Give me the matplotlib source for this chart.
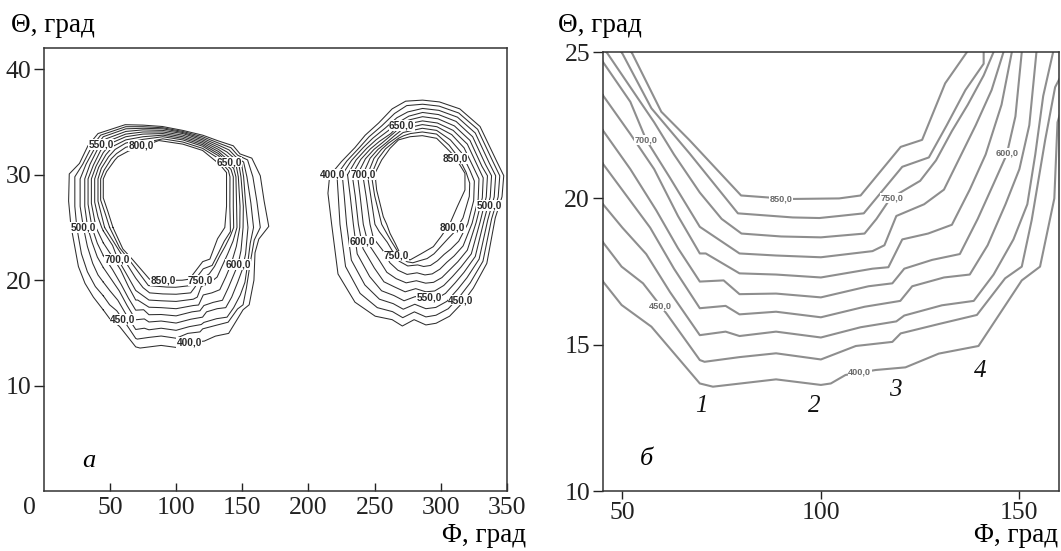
import matplotlib
matplotlib.use("Agg")
import matplotlib.pyplot as plt
import numpy as np

# ---------------- data ----------------
levels = [400, 450, 500, 550, 600, 650, 700, 750, 800, 850]

# Left region of panel a (also shown zoomed in panel б): closed isolines (Phi, Theta)
LB400 = [(45.0,17.18),(49.8,16.36),(57.3,15.62),(69.5,13.68),(72.8,13.57),(88.7,13.82),(100.0,13.63),(102.5,13.68),(106.2,13.97),(113.8,14.14),(121.3,14.23),(129.7,14.70),(139.7,14.96),(150.6,17.20),(155.2,17.67),(158.8,20.0),(159.6,22.6),(162.5,23.9),(170.0,25.1),(166.5,27.5),(163.6,29.9),(157.2,31.57),(148.3,31.97),(143.2,32.74),(132,33.2),(120.2,33.74),(105,34.2),(89.6,34.57),(75,34.7),(61.5,34.74),(41.0,33.9),(33.4,32.74),(27.0,31.07),(19.3,30.07),(18.8,27.5),(20.5,25.2),(26.2,21.3),(31.2,19.7),(37.5,18.4),(45.0,17.18)]
LB450 = [(45,18.52),(49.8,17.67),(55.2,17.1),(61.1,16.07),(69.5,14.48),(70.7,14.42),(79.5,14.58),(88.7,14.71),(100,14.5),(108.8,14.96),(118,15.1),(120.1,15.39),(129.7,15.71),(139.3,16.02),(146.4,17.27),(150.6,17.67),(153.1,19.26),(156.5,22.0),(159,23.8),(163.6,25.0),(161,27.5),(158,29.8),(154,31.4),(146.5,31.85),(141.5,32.55),(132,33.0),(120,33.6),(105,34.1),(90,34.45),(75,34.55),(62,34.55),(43,33.75),(36,32.6),(29.5,31.0),(23.5,29.8),(23.5,27.0),(25.0,25.0),(28.5,22.5),(33,20.8),(39,19.4),(45,18.52)]
LB500 = [(45,19.82),(50,19.0),(56,18.1),(62,16.8),(69.5,15.33),(76,15.45),(79.5,15.3),(88.7,15.45),(100,15.25),(110,15.6),(119,15.8),(121,16.0),(130.5,16.35),(138.5,16.5),(143.5,17.4),(148.5,18.6),(152,19.8),(154,21.5),(156,23.5),(158.5,25.0),(156.5,27.3),(153.5,29.8),(151,31.2),(145,31.7),(140,32.35),(132,32.8),(120,33.45),(105,34.0),(90,34.35),(75,34.4),(62,34.35),(45,33.6),(38.5,32.5),(32,31.0),(27.5,29.6),(27.5,27.0),(30,25.0),(33,23.2),(37,21.6),(41,20.5),(45,19.82)]
LB550 = [(45,21.2),(51,20.1),(57,19.0),(63,17.6),(69.5,16.25),(76,16.33),(79.5,16.04),(88.7,16.13),(100,15.94),(111,16.3),(120,16.5),(123,17.0),(131,17.3),(137.5,17.4),(142,18.4),(146.5,19.8),(150,21.0),(152.5,22.5),(154.3,25.0),(152.5,27.3),(151,29.8),(149.5,31.0),(143.5,31.6),(138.5,32.15),(132,32.6),(120,33.3),(105,33.9),(90,34.2),(75,34.25),(62,34.1),(47,33.4),(41,32.5),(35,31.0),(31,29.6),(31,27.0),(33.2,25.0),(36.5,23.6),(40.5,22.2),(45,21.2)]
LB600 = [(45,22.34),(52,21.0),(58.5,19.6),(64,18.3),(69.5,17.16),(75.5,17.2),(79.5,16.73),(88.7,16.75),(100,16.62),(112,17.0),(118,17.1),(121,17.6),(128,17.9),(135,18.1),(139.5,19.3),(143.5,20.5),(146.8,21.5),(149,22.8),(150.6,25.0),(150.8,27.0),(149,29.8),(147.5,30.9),(142,31.45),(137,31.95),(132,32.4),(120,33.15),(105,33.75),(90,34.05),(75,34.05),(62,33.85),(49,33.2),(43,32.3),(37.5,30.9),(33.5,29.6),(33.5,27.2),(36.5,25.0),(40.5,23.5),(45,22.34)]
LB650 = [(45,23.54),(52,22.2),(58,21.0),(64,19.4),(69.5,18.12),(71,18.12),(79.5,17.44),(88.7,17.4),(100,17.3),(113,17.6),(117,17.65),(120.5,18.6),(127,18.8),(133,19.1),(137.5,20.3),(141.5,21.5),(145.5,23.2),(148.1,25.0),(148.3,27.0),(147,29.8),(145.5,30.8),(140.5,31.3),(135.5,31.8),(132,32.2),(120,33.0),(105,33.6),(90,33.9),(75,33.85),(62,33.6),(51,33.0),(45,32.1),(39.5,30.8),(36,29.6),(36,27.3),(39.5,25.0),(42.5,24.2),(45,23.54)]
LB700 = [(45,24.68),(52,23.3),(56,22.0),(62,20.7),(69.5,19.03),(79.5,18.12),(88.7,18.05),(100,17.99),(113,18.2),(116,18.4),(119,19.4),(126,19.8),(131,20.3),(135,21.4),(139,22.5),(143,23.7),(146,25.0),(145.7,27.0),(145.2,29.8),(143.5,30.6),(139,31.15),(132,32.0),(120,32.85),(105,33.45),(90,33.75),(75,33.6),(62,33.3),(52.5,32.7),(47,31.9),(41.5,30.7),(38.5,29.6),(38.5,27.4),(41,26.0),(43.8,25.0),(45,24.68)]
LB750 = [(46,25.0),(52,23.8),(58,22.6),(63,21.5),(69.5,20.2),(75,19.3),(80,18.8),(90,18.7),(100,18.67),(111,18.8),(114,19.3),(117.5,20.0),(125,20.6),(129,21.3),(133,22.3),(137,23.2),(141,24.2),(143.5,25.0),(143.2,27.0),(143.2,29.8),(141.5,30.5),(137.5,31.0),(132,31.8),(120,32.7),(105,33.3),(90,33.6),(75,33.35),(62,33.0),(54,32.4),(49,31.7),(43.5,30.6),(41,29.6),(41,27.5),(44,26.0),(46,25.0)]
LB800 = [(49.8,25.0),(57.3,23.08),(66.9,21.54),(79.1,19.49),(92.9,19.35),(99.6,19.33),(104.6,19.4),(110.8,19.49),(120.5,21.08),(127.2,21.4),(131.7,22.5),(136.4,23.7),(141.0,24.6),(141.0,25.0),(140.6,27.0),(140.7,29.8),(139.5,30.4),(136,30.9),(132,31.55),(120,32.5),(105,33.1),(90,33.4),(75,33.0),(62,32.6),(55,32.0),(51,31.5),(45.5,30.4),(43,29.6),(43,27.6),(46.5,26.3),(49.8,25.0)]
LB850 = [(52.3,25.0),(59.8,22.96),(66.9,21.99),(79.9,20.1),(92.0,19.98),(104.6,20.0),(110.0,20.1),(120.1,21.76),(125.5,22.0),(131.3,23.93),(136.8,25.0),(138.1,27.0),(138.1,29.8),(138.1,30.2),(134.5,30.75),(130.4,31.24),(120,32.3),(105,32.9),(87,33.24),(75,32.7),(64,32.24),(56,31.7),(53.8,31.4),(47.5,30.3),(45,29.6),(45,27.8),(48.5,26.5),(52.3,25.0)]

# Right region of panel a
RB400 = [(216.0,29.9),(224.9,31.24),(235.1,32.57),(242.8,33.74),(253.0,34.9),(263.2,36.24),(273.4,36.97),(286.2,37.07),(298.9,36.9),(314.3,36.24),(329.6,34.57),(342.3,31.24),(347.5,29.91),(346.2,27.91),(341.1,25.91),(334.7,21.59),(324.5,19.25),(316.8,17.92),(306.6,16.59),(296.4,15.92),(288.7,15.76),(279.8,16.26),(270.9,15.66),(263.2,16.26),(250.4,16.59),(235.1,17.92),(222.3,20.59),(217.5,25.3),(214.7,28.24),(216.0,29.9)]
RB450 = [(221.5,30.0),(229,31.3),(238.3,32.55),(245.8,33.6),(255.5,34.65),(265,35.8),(274.2,36.55),(286.2,36.68),(298.7,36.5),(313.5,35.85),(327.8,34.3),(339.5,31.2),(344.5,29.9),(343.3,27.9),(338.3,25.8),(331.8,21.8),(322.2,19.75),(314.8,18.55),(305.6,17.3),(296.3,16.68),(288.7,16.52),(280.0,17.0),(271.2,16.45),(263.5,17.02),(252.0,17.4),(239.0,18.75),(228.0,21.3),(223.8,25.3),(222.5,28.0),(221.5,30.0)]
RB500 = [(225.5,30.0),(232.5,31.35),(241.2,32.55),(248.5,33.45),(257.8,34.4),(266.8,35.4),(275,35.95),(286.2,36.28),(298.5,36.1),(312.6,35.45),(326,33.95),(336.6,31.1),(341.4,29.9),(340.3,27.9),(335.4,25.7),(328.9,22.0),(319.8,20.25),(312.8,19.15),(304.6,18.0),(296.2,17.42),(288.7,17.3),(280.3,17.72),(271.6,17.25),(264,17.78),(253.6,18.2),(242.6,19.55),(232.4,21.9),(228.8,25.3),(227,28.0),(225.5,30.0)]
RB550 = [(229.5,30.0),(236,31.4),(244,32.5),(251,33.3),(260,34.15),(268.5,35.0),(275.8,35.55),(286.2,35.9),(298.2,35.7),(311.5,35.05),(324,33.6),(333.8,30.95),(338.3,29.9),(337.3,27.9),(332.5,25.6),(326,22.25),(317.5,20.75),(310.8,19.75),(303.5,18.75),(295.8,18.2),(288.7,18.1),(280.7,18.45),(272.2,18.05),(264.5,18.55),(255.2,19.0),(246.2,20.35),(236.8,22.5),(233.9,25.3),(231.5,28.0),(229.5,30.0)]
RB600 = [(233,30.0),(239.5,31.45),(246.8,32.45),(253.5,33.15),(262.2,33.9),(270,34.9),(276.2,35.2),(286.2,35.5),(297.8,35.3),(310.3,34.62),(322,33.25),(331,30.8),(335.2,29.9),(334.3,27.9),(329.6,25.5),(323,22.5),(315.2,21.25),(308.8,20.35),(302.2,19.5),(295.3,18.98),(288.7,18.9),(281,19.2),(273,18.9),(265.2,19.35),(257,19.85),(249.8,21.15),(241.2,23.0),(237.7,25.3),(235.3,28.0),(233,30.0)]
RB650 = [(237,30.0),(243,31.5),(249.5,32.4),(256,33.05),(264,33.9),(271.2,34.7),(276.4,34.85),(286.1,35.1),(297.4,34.9),(309.3,34.2),(320,32.9),(328.2,30.7),(332,29.7),(331.3,27.8),(326.6,25.45),(320,22.85),(312.8,21.75),(306.8,21.0),(300.8,20.25),(294.5,19.8),(288.5,19.72),(281.5,19.95),(273.8,19.75),(266.2,20.15),(259.2,20.75),(253.2,21.95),(245,23.5),(241.4,25.3),(239,28.0),(237,30.0)]
RB700 = [(241,30.0),(246.5,31.55),(252.5,32.4),(258.5,33.0),(265,33.7),(271.5,34.35),(277,34.5),(286,34.75),(297,34.55),(308.2,33.8),(317.5,32.55),(325.2,30.55),(328.8,29.6),(328.2,27.7),(323.6,25.4),(316.8,23.25),(310,22.3),(304.5,21.7),(299.3,21.05),(293.5,20.6),(288,20.5),(282,20.7),(274.5,20.55),(267.5,20.95),(261.5,21.65),(256.3,22.8),(249,24.0),(246.5,25.3),(243.5,28.0),(241,30.0)]
RB750 = [(244.5,30.0),(249.5,31.55),(255.2,32.4),(260.5,33.0),(266.2,33.5),(271.5,34.0),(276.8,34.15),(286,34.4),(296.8,34.2),(307.2,33.3),(315.5,32.1),(322,30.4),(325.3,29.4),(324.8,27.55),(320.3,25.35),(313.5,23.7),(307.5,22.95),(302.5,22.45),(297.5,21.85),(292.2,21.4),(287,21.3),(282.5,21.45),(275,21.35),(268.5,21.8),(264.2,22.6),(259.5,23.6),(253.5,24.6),(250.2,25.3),(247,28.0),(244.5,30.0)]
RB800 = [(247.5,30.0),(252.5,31.5),(258.2,32.45),(263.5,33.0),(268,33.45),(272,33.7),(277,33.9),(286,34.05),(296.8,33.85),(306.2,32.8),(313.5,31.6),(319,30.25),(321.8,29.2),(321.5,27.95),(316.7,25.9),(310.5,24.6),(305.5,23.95),(300,23.2),(294.8,22.5),(289.6,22.05),(284,21.85),(278.8,21.65),(274.5,21.75),(270.2,22.15),(266.5,22.9),(262.5,23.7),(257.5,24.8),(255.3,25.3),(250,28.0),(247.5,30.0)]
RB850 = [(250.2,30.13),(255.3,31.4),(261.6,32.5),(268,33.3),(276.7,33.6),(286,33.7),(296.8,33.45),(304.5,32.5),(309.4,31.87),(314,31.0),(318.2,30.13),(318.2,28.55),(312.5,27.0),(306.9,25.39),(300.5,24.2),(294.3,23.18),(285,22.5),(276.7,21.92),(272,22.2),(269.1,22.55),(265.5,23.5),(261.6,24.44),(259.1,25.3),(256.5,26.02),(251.5,28.55),(250.2,30.13)]

left_loops = [LB400, LB450, LB500, LB550, LB600, LB650, LB700, LB750, LB800, LB850]
right_loops = [RB400, RB450, RB500, RB550, RB600, RB650, RB700, RB750, RB800, RB850]

# isoline labels (text, Phi, Theta)
labels_a = [("550,0", 43.5, 32.9), ("800,0", 73.5, 32.8), ("650,0", 140.0, 31.2), ("500,0", 30.0, 25.0),
            ("700,0", 55.7, 21.95), ("850,0", 90.2, 20.0), ("750,0", 118.6, 20.0), ("600,0", 147.0, 21.5),
            ("450,0", 59.6, 16.25), ("400,0", 110.0, 14.1),
            ("400,0", 218.0, 30.0), ("700,0", 241.4, 30.0), ("650,0", 270.5, 34.7), ("850,0", 310.6, 31.55),
            ("500,0", 336.6, 27.1), ("800,0", 308.8, 25.0), ("600,0", 240.8, 23.65), ("750,0", 266.0, 22.3),
            ("550,0", 291.0, 18.37), ("450,0", 315.0, 18.12)]
labels_b = [("700,0", 56.0, 22.0), ("850,0", 90.0, 19.98), ("750,0", 118.0, 20.0), ("600,0", 146.8, 21.54),
            ("450,0", 59.6, 16.33), ("400,0", 109.8, 14.08)]
curve_numbers = [("1", 69.9, 12.9), ("2", 98.3, 12.9), ("3", 118.8, 13.45), ("4", 140.1, 14.1)]

xticks_a = [50, 100, 150, 200, 250, 300, 350]
yticks_a = [10, 20, 30, 40]
xticks_b = [50, 100, 150]
yticks_b = [10, 15, 20, 25]

# ---------------- drawing ----------------
SERIF = "Liberation Serif"
SANS = "Liberation Sans"
TICK_FS = 18.5
LABEL_FS = 19.5
fig = plt.figure(figsize=(10.61, 5.51), dpi=100)
axA = fig.add_axes([0.0412, 0.1085, 0.4367, 0.8042])
axB = fig.add_axes([0.5679, 0.1085, 0.4303, 0.7971])

for loop in left_loops + right_loops:
    arr = np.array(loop)
    axA.plot(arr[:, 0], arr[:, 1], color="#2e2e2e", lw=0.75, zorder=2)
for loop in left_loops:
    arr = np.array(loop)
    axB.plot(arr[:, 0], arr[:, 1], color="#8e8e8e", lw=1.5, zorder=2)

for txt, x, y in labels_a:
    axA.text(x, y, txt, fontsize=7.3, fontweight="bold", family=SANS, color="#2a2a2a",
             ha="center", va="center", zorder=4,
             bbox=dict(facecolor="white", edgecolor="none", pad=0.3))
for txt, x, y in labels_b:
    axB.text(x, y, txt, fontsize=6.6, fontweight="bold", family=SANS, color="#6a6a6a",
             ha="center", va="center", zorder=4,
             bbox=dict(facecolor="white", edgecolor="none", pad=0.4))
for txt, x, y in curve_numbers:
    axB.text(x, y, txt, fontsize=18, style="italic", family=SERIF, color="#111111",
             ha="center", va="center")

axA.text(33.9, 2.9, "а", fontsize=19, style="italic", family=SERIF, ha="center", va="center")
axB.text(56.1, 11.1, "б", fontsize=19, style="italic", family=SERIF, ha="center", va="center")

axA.set_xlim(0, 350)
axA.set_ylim(0, 42)
axB.set_xlim(45, 160)
axB.set_ylim(10, 25)

axA.set_xticks(xticks_a)
axA.set_xticklabels([str(v) for v in xticks_a])
axA.set_yticks(yticks_a)
axA.set_yticklabels([str(v) for v in yticks_a])
axB.set_xticks(xticks_b)
axB.set_xticklabels([str(v) for v in xticks_b])
axB.set_yticks(yticks_b)
axB.set_yticklabels([str(v) for v in yticks_b])

for ax in (axA, axB):
    for sp in ax.spines.values():
        sp.set_color("#333333")
        sp.set_linewidth(1.1)
    for lab in ax.get_xticklabels() + ax.get_yticklabels():
        lab.set_family(SERIF)
        lab.set_fontsize(TICK_FS)
axA.tick_params(axis="x", direction="in", length=6, width=1, pad=4, colors="#222222")
axA.tick_params(axis="y", direction="out", length=7, width=1, pad=2, colors="#222222")
axB.tick_params(axis="x", direction="out", length=6, width=1, pad=2, colors="#222222")
axB.tick_params(axis="y", direction="out", length=7, width=1, pad=2, colors="#222222")

# origin label of panel a (placed like the other x tick labels)
axA.text(-0.030, -0.0125, "0", transform=axA.transAxes, fontsize=TICK_FS, family=SERIF,
         ha="center", va="top", color="#222222")

fig.text(0.010, 0.953, "Θ, град", fontsize=LABEL_FS, family=SERIF, ha="left", va="center")
fig.text(0.526, 0.953, "Θ, град", fontsize=LABEL_FS, family=SERIF, ha="left", va="center")
fig.text(0.4958, 0.028, "Φ, град", fontsize=LABEL_FS, family=SERIF, ha="right", va="center")
fig.text(0.997, 0.028, "Φ, град", fontsize=LABEL_FS, family=SERIF, ha="right", va="center")

fig.savefig("out.png", dpi=100)
